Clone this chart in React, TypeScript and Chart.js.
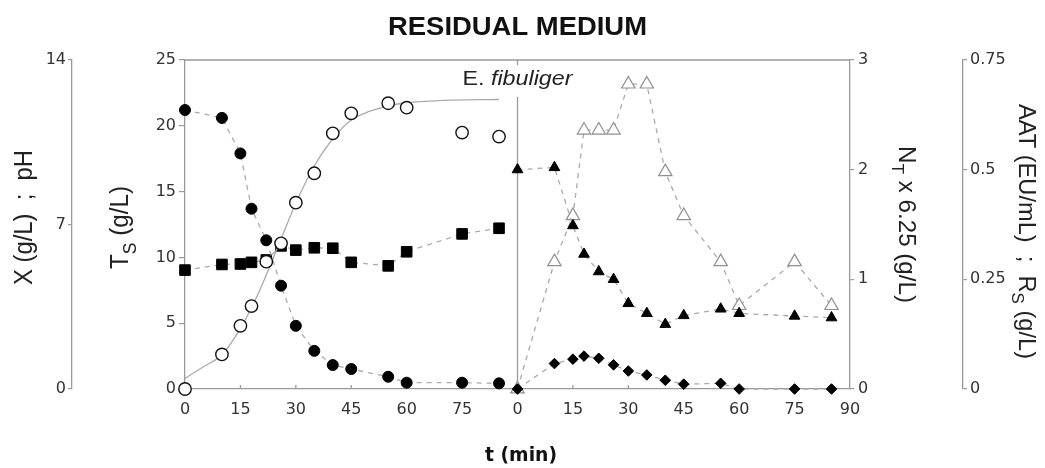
import React, { useEffect, useRef } from "react";
import { Chart, registerables } from "chart.js";

Chart.register(...registerables);

const FONT = '"DejaVu Sans", Verdana, sans-serif';
const TITLE_FONT = '"Liberation Sans", Arial, sans-serif';
const AXIS = "#9a9a9a";
const DASH = "#aaaaaa";
const TICK_TXT = "#333333";

// ---- Left panel (residual medium, first stage) ----
const timeLeft = [0, 10, 15, 18, 22, 26, 30, 35, 40, 45, 55, 60, 75, 85];
const totalSugars = [21.2, 20.6, 17.9, 13.7, 11.3, 7.85, 4.8, 2.9, 1.82, 1.52, 0.93, 0.48, 0.48, 0.43]; // T_S (g/L)
const biomass = [0, 1.47, 2.69, 3.53, 5.42, 6.2, 7.93, 9.18, 10.88, 11.73, 12.16, 11.97, 10.91, 10.74]; // X (g/L)
const pHValues = [5.06, 5.3, 5.32, 5.39, 5.49, 6.09, 5.91, 6.01, 5.99, 5.39, 5.24, 5.84, 6.6, 6.84];
const fitTime = [0, 5, 10, 15, 20, 25, 30, 35, 40, 45, 50, 55, 60, 70, 85];
const biomassFit = [0.45, 0.95, 1.46, 2.58, 4.12, 6.0, 7.9, 9.5, 10.65, 11.45, 11.82, 12.04, 12.18, 12.28, 12.32];

// ---- Right panel (E. fibuliger) ----
const PANEL_OFFSET = 90;
const timeRight = [0, 10, 15, 18, 22, 26, 30, 35, 40, 45, 55, 60, 75, 85];
const totalNitrogen = [2.0, 2.02, 1.49, 1.23, 1.07, 1.0, 0.78, 0.69, 0.59, 0.67, 0.73, 0.69, 0.665, 0.65]; // N_T x 6.25 (g/L)
const aatActivity = [0, 0.29, 0.395, 0.59, 0.59, 0.59, 0.695, 0.695, 0.495, 0.395, 0.29, 0.19, 0.29, 0.19]; // AAT (EU/mL)
const reducingSugars = [0, 0.058, 0.068, 0.075, 0.07, 0.055, 0.041, 0.032, 0.02, 0.011, 0.013, 0, 0, 0]; // R_S (g/L)

const xTickLabels = ["0", "15", "30", "45", "60", "75", "0", "15", "30", "45", "60", "75", "90"];
const aatTickLabels = ["0", "0.25", "0.5", "0.75"];

type Seg = { text: string; sub?: boolean; italic?: boolean };

function drawRich(
  ctx: CanvasRenderingContext2D,
  segs: Seg[],
  x: number,
  y: number,
  size: number,
  angle: number,
  bold: boolean,
  targetLen: number | null,
  color: string,
  family: string
) {
  ctx.save();
  ctx.translate(x, y);
  ctx.rotate(angle);
  const fontOf = (s: Seg) =>
    `${s.italic ? "italic " : ""}${bold ? "bold " : ""}${s.sub ? size * 0.72 : size}px ${family}`;
  let total = 0;
  const widths = segs.map((s) => {
    ctx.font = fontOf(s);
    const w = ctx.measureText(s.text).width;
    total += w;
    return w;
  });
  const k = targetLen ? targetLen / total : 1;
  ctx.scale(k, 1);
  let cx = -total / 2;
  ctx.fillStyle = color;
  ctx.textBaseline = "alphabetic";
  ctx.textAlign = "left";
  segs.forEach((s, i) => {
    ctx.font = fontOf(s);
    ctx.fillText(s.text, cx, s.sub ? size * 0.3 : 0);
    cx += widths[i];
  });
  ctx.restore();
}

const decorPlugin = {
  id: "decor",
  beforeDatasetsDraw(chart: any) {
    const { ctx, chartArea: a, scales } = chart;
    const xs = scales.x;
    ctx.save();
    ctx.strokeStyle = AXIS;
    ctx.lineWidth = 1.3;
    ctx.beginPath();
    ctx.moveTo(a.left, a.top);
    ctx.lineTo(a.right, a.top);
    ctx.stroke();
    const sx = xs.getPixelForValue(PANEL_OFFSET);
    ctx.beginPath();
    ctx.moveTo(sx, a.top + 37);
    ctx.lineTo(sx, a.bottom);
    ctx.stroke();
    ctx.beginPath();
    ctx.moveTo(sx, a.top);
    ctx.lineTo(sx, a.top + 5);
    ctx.stroke();
    xs.ticks.forEach((t: any) => {
      const px = xs.getPixelForValue(t.value);
      if (px <= a.left + 1 || px >= a.right - 1) return;
      ctx.beginPath();
      ctx.moveTo(px, a.bottom);
      ctx.lineTo(px, a.bottom - 4);
      ctx.stroke();
    });
    ctx.restore();
  },
  afterDraw(chart: any) {
    const { ctx, chartArea: a, scales } = chart;
    const sx = scales.x.getPixelForValue(PANEL_OFFSET);
    const midY = (a.top + a.bottom) / 2;
    drawRich(ctx, [{ text: "RESIDUAL MEDIUM" }], 517.5, 35, 25, 0, true, 259, "#111", TITLE_FONT);
    drawRich(ctx, [{ text: "E. " }, { text: "fibuliger", italic: true }], sx, a.top + 25, 20, 0, false, 110, "#222", TITLE_FONT);
    drawRich(ctx, [{ text: "t (min)" }], 521, 461, 19, 0, true, 72, "#111", FONT);
    drawRich(ctx, [{ text: "X (g/L)  ;  pH" }], 32, midY - 7, 25, -Math.PI / 2, false, 135, "#222", TITLE_FONT);
    drawRich(ctx, [{ text: "T" }, { text: "S", sub: true }, { text: " (g/L)" }], 128, midY + 3, 26, -Math.PI / 2, false, 83, "#222", TITLE_FONT);
    drawRich(ctx, [{ text: "N" }, { text: "T", sub: true }, { text: " x 6.25 (g/L)" }], 899, midY, 24, Math.PI / 2, false, 157, "#222", TITLE_FONT);
    drawRich(
      ctx,
      [{ text: "AAT (EU/mL)  ;  R" }, { text: "S", sub: true }, { text: " (g/L)" }],
      1019,
      midY + 7,
      24,
      Math.PI / 2,
      false,
      255,
      "#222",
      TITLE_FONT
    );
  },
};

const tickFont = { family: FONT, size: 16 };

function yAxis(
  position: string,
  weight: number,
  min: number,
  max: number,
  step: number,
  tickLen: number,
  pad: number,
  width: number,
  labels?: string[]
) {
  const ticks: any = { stepSize: step, padding: pad, color: TICK_TXT, font: tickFont };
  if (labels) ticks.callback = (_v: any, i: number) => labels[i];
  return {
    type: "linear",
    position,
    weight,
    min,
    max,
    ticks,
    grid: { drawOnChartArea: false, drawTicks: true, tickLength: tickLen, color: AXIS, lineWidth: 1.2 },
    border: { display: true, color: AXIS, width: 1.3 },
    title: { display: false },
    afterFit: (s: any) => {
      s.width = width;
    },
  };
}

export default function App() {
  const ref = useRef<HTMLCanvasElement>(null);

  useEffect(() => {
    const left = (ys: number[]) => timeLeft.map((t, i) => ({ x: t, y: ys[i] }));
    const right = (ys: number[]) => timeRight.map((t, i) => ({ x: PANEL_OFFSET + t, y: ys[i] }));
    const dashed = { borderColor: DASH, borderWidth: 1.3, borderDash: [5, 5], tension: 0, clip: false as any };

    const chart = new Chart(ref.current as HTMLCanvasElement, {
      type: "line",
      data: {
        datasets: [
          {
            label: "X",
            data: left(biomass),
            yAxisID: "yX",
            showLine: false,
            pointStyle: "circle",
            pointRadius: 6.2,
            pointBackgroundColor: "#ffffff",
            pointBorderColor: "#111",
            pointBorderWidth: 1.4,
            clip: false as any,
            order: 1,
          },
          {
            label: "X fit",
            data: fitTime.map((t, i) => ({ x: t, y: biomassFit[i] })),
            yAxisID: "yX",
            borderColor: DASH,
            borderWidth: 1.3,
            pointRadius: 0,
            cubicInterpolationMode: "monotone",
            clip: false as any,
            order: 2,
          },
          {
            label: "Ts",
            data: left(totalSugars),
            yAxisID: "yTs",
            ...dashed,
            pointStyle: "circle",
            pointRadius: 5.5,
            pointBackgroundColor: "#000",
            pointBorderColor: "#000",
            pointBorderWidth: 1,
            order: 3,
          },
          {
            label: "pH",
            data: left(pHValues),
            yAxisID: "yX",
            ...dashed,
            pointStyle: "rect",
            pointRadius: 7.5,
            pointBackgroundColor: "#000",
            pointBorderColor: "#000",
            pointBorderWidth: 1,
            order: 4,
          },
          {
            label: "NT",
            data: right(totalNitrogen),
            yAxisID: "yN",
            ...dashed,
            pointStyle: "triangle",
            pointRadius: 6.2,
            pointBackgroundColor: "#000",
            pointBorderColor: "#000",
            pointBorderWidth: 1,
            order: 5,
          },
          {
            label: "Rs",
            data: right(reducingSugars),
            yAxisID: "yA",
            ...dashed,
            pointStyle: "rectRot",
            pointRadius: 5.3,
            pointBackgroundColor: "#000",
            pointBorderColor: "#000",
            pointBorderWidth: 1,
            order: 6,
          },
          {
            label: "AAT",
            data: right(aatActivity),
            yAxisID: "yA",
            ...dashed,
            pointStyle: "triangle",
            pointRadius: 7.7,
            pointBackgroundColor: "#ffffff",
            pointBorderColor: "#8f8f8f",
            pointBorderWidth: 1.2,
            order: 7,
          },
        ] as any,
      },
      options: {
        animation: false,
        responsive: true,
        maintainAspectRatio: false,
        devicePixelRatio: 1,
        events: [],
        layout: { padding: { top: 60, left: 0, right: 0, bottom: 0 } },
        plugins: { legend: { display: false }, tooltip: { enabled: false }, title: { display: false } },
        scales: {
          x: {
            type: "linear",
            min: 0,
            max: 180,
            position: "bottom",
            ticks: {
              stepSize: 15,
              autoSkip: false,
              maxRotation: 0,
              padding: 11,
              color: TICK_TXT,
              font: tickFont,
              callback: (_v: any, i: number) => xTickLabels[i],
            },
            grid: { display: false, drawTicks: false },
            border: { display: true, color: AXIS, width: 1.3 },
            afterFit: (s: any) => {
              s.height = 79;
            },
          },
          yX: yAxis("left", 2, 0, 14, 7, 4, 2, 72),
          yTs: yAxis("left", 1, 0, 25, 5, 6, 3, 113),
          yN: yAxis("right", 1, 0, 3, 1, 4, 4, 113),
          yA: yAxis("right", 2, 0, 0.75, 0.25, 4, 3, 82, aatTickLabels),
        } as any,
      },
      plugins: [decorPlugin],
    });
    return () => chart.destroy();
  }, []);

  return (
    <div style={{ position: "fixed", left: 0, top: 0, width: 1045, height: 468, background: "#fff" }}>
      <canvas ref={ref} />
    </div>
  );
}
